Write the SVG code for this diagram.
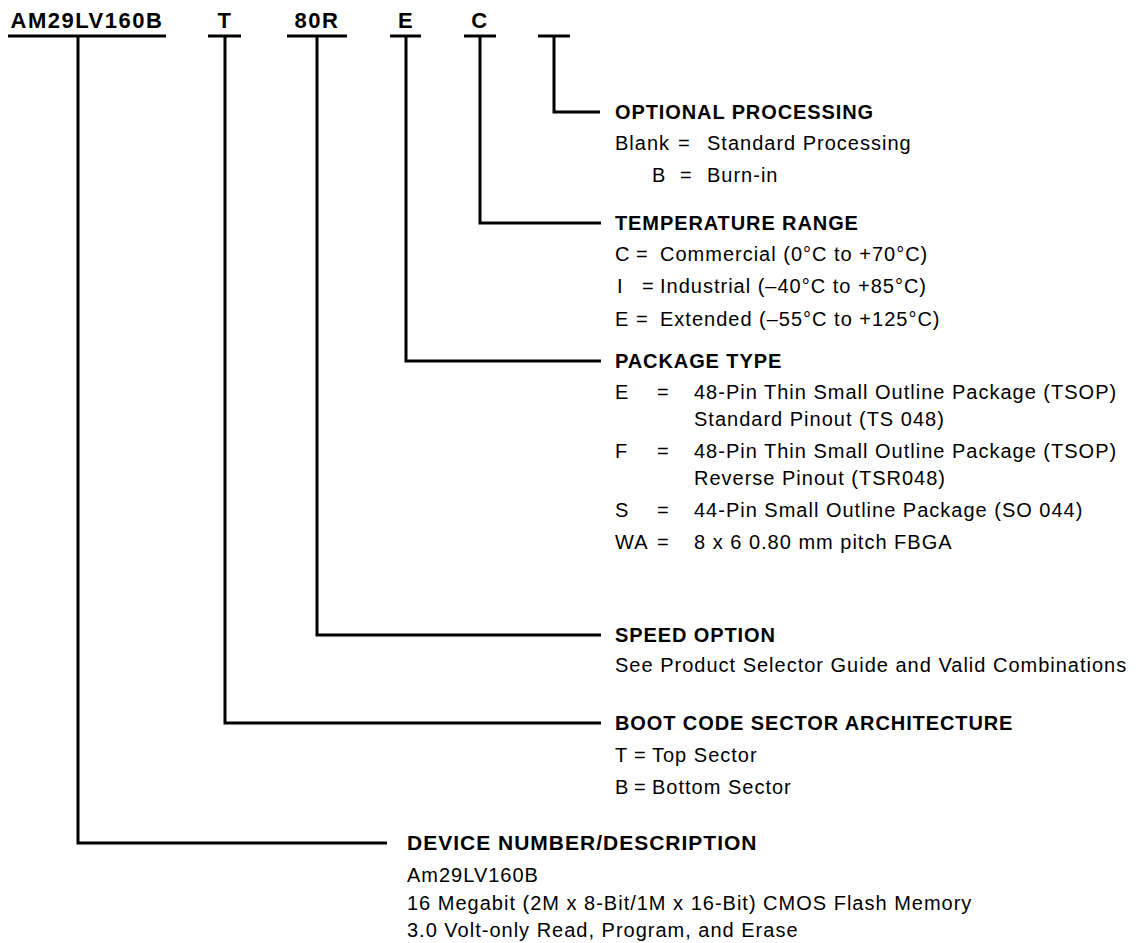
<svg xmlns="http://www.w3.org/2000/svg" width="1142" height="943" viewBox="0 0 1142 943">
<style>
.bg{fill:#ffffff}
.lbl{font-family:"Liberation Sans",Arial,Helvetica,sans-serif;font-weight:bold;font-size:22px;letter-spacing:1.5px;fill:#000;text-anchor:middle}
.hd{font-family:"Liberation Sans",Arial,Helvetica,sans-serif;font-weight:bold;font-size:20px;letter-spacing:0.9px;fill:#000}
.hd2{font-family:"Liberation Sans",Arial,Helvetica,sans-serif;font-weight:bold;font-size:21px;letter-spacing:1px;fill:#000}
.tx{font-family:"Liberation Sans",Arial,Helvetica,sans-serif;font-size:20px;letter-spacing:1px;fill:#000}
.ln{stroke:#000;stroke-width:3;fill:none;stroke-linecap:butt;stroke-linejoin:miter}
</style>
<rect class="bg" x="0" y="0" width="1142" height="943"/>

<g id="part-labels">
  <g id="label-device"><text class="lbl" x="87" y="28">AM29LV160B</text></g>
  <g id="label-boot"><text class="lbl" x="225" y="28">T</text></g>
  <g id="label-speed"><text class="lbl" x="317" y="28">80R</text></g>
  <g id="label-package"><text class="lbl" x="406" y="28">E</text></g>
  <g id="label-temp"><text class="lbl" x="480" y="28">C</text></g>
</g>

<g id="connectors">
  <line class="ln" x1="8" y1="36" x2="166" y2="36"/>
  <line class="ln" x1="208" y1="36" x2="241" y2="36"/>
  <line class="ln" x1="287" y1="36" x2="347" y2="36"/>
  <line class="ln" x1="390" y1="36" x2="421" y2="36"/>
  <line class="ln" x1="464" y1="36" x2="496" y2="36"/>
  <line class="ln" x1="538" y1="36" x2="570" y2="36"/>
  <polyline class="ln" points="554,36 554,112 600,112"/>
  <polyline class="ln" points="480,36 480,223 601,223"/>
  <polyline class="ln" points="406,36 406,361 601,361"/>
  <polyline class="ln" points="317,36 317,635 601,635"/>
  <polyline class="ln" points="225,36 225,723 601,723"/>
  <polyline class="ln" points="78,36 78,843 387,843"/>
</g>

<g id="optional-processing">
  <text class="hd" x="615" y="119">OPTIONAL PROCESSING</text>
  <text class="tx" x="615" y="150">Blank</text>
  <text class="tx" x="678" y="150">=</text>
  <text class="tx" x="707" y="150">Standard Processing</text>
  <text class="tx" x="652" y="182">B</text>
  <text class="tx" x="680" y="182">=</text>
  <text class="tx" x="707" y="182">Burn-in</text>
</g>

<g id="temperature-range">
  <text class="hd" x="615" y="230">TEMPERATURE RANGE</text>
  <text class="tx" x="615" y="261">C</text>
  <text class="tx" x="636" y="261">=</text>
  <text class="tx" x="660" y="261">Commercial (0°C to +70°C)</text>
  <text class="tx" x="617" y="293">I</text>
  <text class="tx" x="642" y="293">=</text>
  <text class="tx" x="660" y="293">Industrial (–40°C to +85°C)</text>
  <text class="tx" x="615" y="326">E</text>
  <text class="tx" x="636" y="326">=</text>
  <text class="tx" x="660" y="326">Extended (–55°C to +125°C)</text>
</g>

<g id="package-type">
  <text class="hd" x="615" y="368">PACKAGE TYPE</text>
  <text class="tx" x="615" y="399">E</text>
  <text class="tx" x="657" y="399">=</text>
  <text class="tx" x="694" y="399">48-Pin Thin Small Outline Package (TSOP)</text>
  <text class="tx" x="694" y="426">Standard Pinout (TS 048)</text>
  <text class="tx" x="615" y="458">F</text>
  <text class="tx" x="657" y="458">=</text>
  <text class="tx" x="694" y="458">48-Pin Thin Small Outline Package (TSOP)</text>
  <text class="tx" x="694" y="485">Reverse Pinout (TSR048)</text>
  <text class="tx" x="615" y="517">S</text>
  <text class="tx" x="657" y="517">=</text>
  <text class="tx" x="694" y="517">44-Pin Small Outline Package (SO 044)</text>
  <text class="tx" x="615" y="549">WA</text>
  <text class="tx" x="657" y="549">=</text>
  <text class="tx" x="694" y="549">8 x 6 0.80 mm pitch FBGA</text>
</g>

<g id="speed-option">
  <text class="hd" x="615" y="642">SPEED OPTION</text>
  <text class="tx" x="615" y="672">See Product Selector Guide and Valid Combinations</text>
</g>

<g id="boot-code">
  <text class="hd" x="615" y="730">BOOT CODE SECTOR ARCHITECTURE</text>
  <text class="tx" x="615" y="762">T</text>
  <text class="tx" x="634" y="762">=</text>
  <text class="tx" x="652" y="762">Top Sector</text>
  <text class="tx" x="615" y="794">B</text>
  <text class="tx" x="634" y="794">=</text>
  <text class="tx" x="652" y="794">Bottom Sector</text>
</g>

<g id="device-number">
  <text class="hd2" x="407" y="850">DEVICE NUMBER/DESCRIPTION</text>
  <text class="tx" x="407" y="882">Am29LV160B</text>
  <text class="tx" x="407" y="910">16 Megabit (2M x 8-Bit/1M x 16-Bit) CMOS Flash Memory</text>
  <text class="tx" x="407" y="937">3.0 Volt-only Read, Program, and Erase</text>
</g>
</svg>
